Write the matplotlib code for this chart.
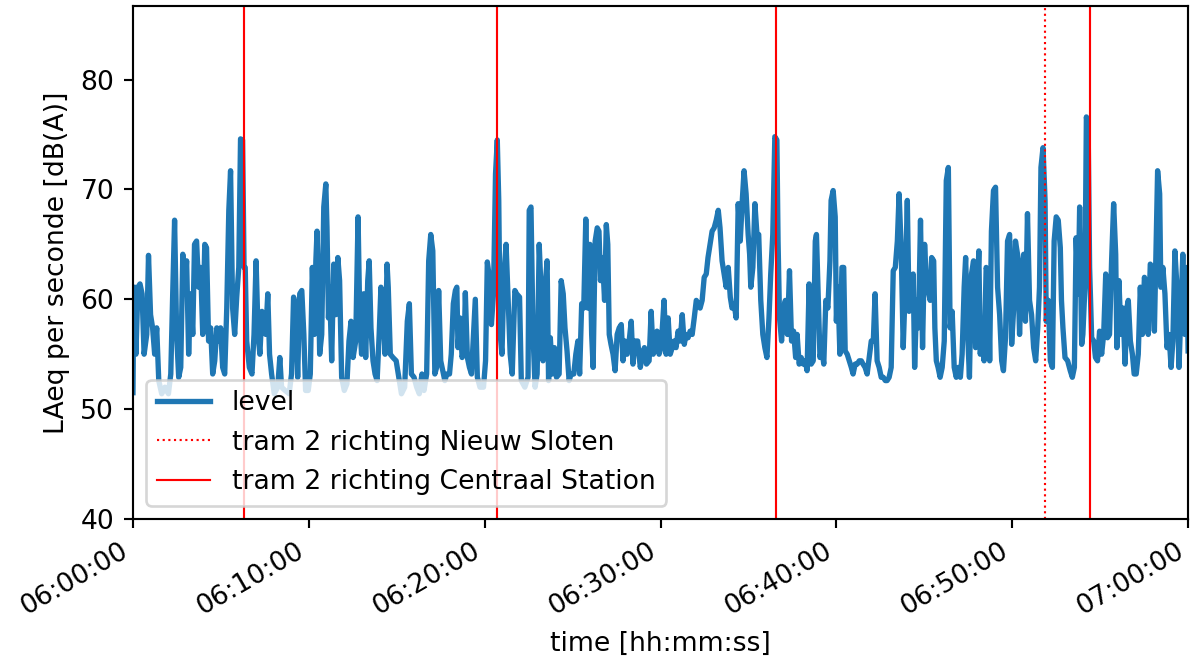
import datetime as dt
import matplotlib
matplotlib.use("Agg")
import matplotlib.pyplot as plt
import matplotlib.dates as mdates

# LAeq per second (seconds after 06:00:00, dB(A))
sec_00 = [0, 2, 6, 10, 17, 24, 31, 38, 47, 53, 60, 67, 74, 81, 88, 98, 109, 121, 129, 135,
          142, 149, 156, 163, 170, 176, 183, 190, 197, 204, 210, 217, 224, 231, 238, 245, 251,
          258, 265, 272, 279, 286, 292, 299, 306, 313, 320, 327, 333, 340, 347, 354, 361, 367,
          374, 379, 383, 388, 397, 406, 413, 420, 427, 433, 440]
db_00 = [51.5, 58.0, 61.1, 55.0, 61.1, 61.4, 60.5, 55.0, 56.8, 64.0, 58.6, 57.4, 55.0, 57.4,
         52.6, 51.4, 52.0, 51.4, 53.2, 59.9, 67.2, 56.8, 52.9, 53.8, 64.1, 60.5, 63.5, 55.0,
         60.5, 56.8, 65.0, 65.3, 61.1, 62.9, 56.8, 65.0, 64.7, 56.2, 57.4, 53.2, 54.4, 57.4,
         56.2, 57.4, 53.8, 53.2, 59.2, 68.1, 71.7, 59.2, 56.8, 60.2, 62.9, 74.6, 74.5, 62.9,
         62.9, 56.2, 53.8, 53.2, 56.8, 63.5, 56.8, 55.0, 58.9]

sec_07 = [453, 460, 466, 473, 482, 494, 501, 507, 519, 533, 541, 548, 555, 562, 569, 576, 583,
          589, 598, 605, 612, 619, 624, 628, 633, 637, 644, 651, 658, 662, 667, 671, 678, 685,
          692, 699, 705, 712, 721, 730, 737, 744, 751, 760, 768, 774, 780, 787, 794, 801, 806,
          812, 819, 826, 833, 840, 846, 853, 860, 867, 871, 878, 887]
db_07 = [56.8, 60.5, 55.0, 53.2, 51.4, 52.0, 54.7, 52.0, 51.7, 51.4, 53.2, 60.2, 59.2, 52.9,
         60.5, 60.8, 56.8, 51.7, 51.7, 53.2, 62.9, 56.8, 63.5, 66.2, 61.4, 55.0, 56.8, 68.4,
         70.5, 66.5, 58.3, 61.1, 54.4, 63.2, 58.6, 63.8, 61.7, 52.9, 51.7, 52.3, 56.2, 58.0,
         54.7, 56.2, 67.5, 58.0, 55.0, 60.5, 54.7, 61.7, 63.5, 57.4, 54.4, 53.2, 52.6, 56.8,
         61.1, 59.2, 55.0, 63.2, 61.1, 55.0, 54.7]

sec_15 = [898, 907, 916, 927, 936, 943, 950, 959, 968, 977, 986, 993, 1002, 1009, 1016, 1023,
          1030, 1036, 1043, 1050, 1057, 1064, 1071, 1080, 1086, 1093, 1100, 1105, 1109, 1116,
          1123, 1130, 1134, 1141, 1148, 1155, 1162, 1168, 1175, 1184, 1196, 1203, 1209, 1216,
          1223, 1230, 1237, 1243, 1248, 1253, 1259, 1266, 1273, 1280, 1287, 1294, 1303, 1309,
          1319, 1325, 1337, 1348]
db_15 = [54.4, 52.9, 51.4, 52.0, 58.0, 59.6, 53.2, 52.9, 52.0, 51.4, 53.2, 51.7, 53.2, 63.5,
         65.9, 64.4, 53.2, 53.8, 60.8, 54.4, 53.5, 52.6, 53.2, 53.2, 55.0, 59.6, 60.8, 61.1,
         55.6, 58.3, 54.7, 55.6, 60.6, 54.7, 53.8, 53.2, 56.8, 60.0, 52.9, 52.0, 52.0, 54.4,
         63.4, 62.0, 57.7, 60.5, 71.4, 74.5, 69.0, 56.8, 55.0, 62.3, 65.0, 59.9, 55.0, 53.2,
         60.8, 60.5, 60.2, 52.6, 52.0, 52.9]

sec_22 = [1352, 1358, 1365, 1372, 1379, 1386, 1392, 1399, 1406, 1413, 1418, 1424, 1431, 1438,
          1445, 1454, 1461, 1468, 1474, 1481, 1488, 1495, 1504, 1511, 1518, 1524, 1531, 1538,
          1545, 1552, 1559, 1565, 1570, 1577, 1584, 1590, 1595, 1602, 1609, 1615, 1620, 1625,
          1631, 1638, 1645, 1652, 1659, 1666, 1672, 1679, 1686, 1693, 1700, 1706, 1713, 1722,
          1731, 1738, 1745, 1752, 1761, 1768, 1775, 1782, 1788, 1795, 1802]
db_22 = [68.1, 68.4, 56.8, 52.0, 53.2, 65.0, 61.1, 54.4, 61.1, 63.5, 52.6, 56.5, 53.2, 55.6,
         52.9, 53.2, 61.7, 60.5, 57.4, 55.3, 52.6, 53.2, 53.2, 55.0, 56.2, 53.2, 59.6, 59.2,
         67.3, 59.2, 65.0, 56.8, 53.8, 65.3, 66.5, 66.2, 61.7, 63.8, 59.9, 66.8, 65.0, 56.8,
         55.9, 55.0, 53.5, 56.8, 57.4, 57.7, 54.4, 56.2, 55.0, 56.2, 58.0, 54.1, 56.2, 56.2,
         53.8, 55.0, 55.6, 54.1, 54.4, 58.9, 55.0, 55.6, 57.1, 55.0, 55.6]

sec_30 = [1812, 1819, 1826, 1833, 1840, 1846, 1853, 1860, 1867, 1874, 1881, 1887, 1894, 1901,
          1908, 1915, 1922, 1928, 1935, 1942, 1949, 1956, 1962, 1969, 1976, 1983, 1990, 1997,
          2003, 2010, 2017, 2024, 2031, 2038, 2044, 2051, 2058, 2065, 2072, 2079, 2085, 2092,
          2099, 2104, 2108, 2115, 2122, 2129, 2135, 2142, 2149, 2156, 2163, 2170, 2176, 2183,
          2190, 2197, 2201, 2206, 2213, 2220, 2226, 2233, 2240, 2247, 2254]
db_30 = [59.9, 55.0, 58.3, 55.0, 55.6, 56.2, 55.6, 57.1, 56.2, 58.6, 55.9, 56.8, 56.5, 57.1,
         56.8, 58.3, 59.9, 59.6, 59.2, 59.9, 62.0, 62.3, 63.8, 65.0, 66.2, 66.5, 67.2, 68.1,
         66.5, 63.5, 62.3, 61.1, 62.9, 60.2, 59.2, 59.6, 58.3, 68.7, 65.3, 69.0, 71.7, 69.6,
         65.9, 64.1, 61.1, 62.9, 68.7, 65.9, 65.9, 59.9, 56.8, 55.6, 54.7, 58.3, 62.3, 65.9,
         74.8, 74.5, 65.3, 58.3, 56.2, 59.2, 59.9, 56.8, 62.6, 56.2, 57.1]

sec_37 = [2261, 2266, 2273, 2280, 2287, 2294, 2300, 2307, 2314, 2321, 2328, 2332, 2337, 2344,
          2350, 2357, 2364, 2371, 2378, 2382, 2389, 2396, 2400, 2405, 2412, 2419, 2425, 2430,
          2437, 2444, 2451, 2457, 2464, 2471, 2478, 2485, 2491, 2498, 2505, 2512, 2519, 2526,
          2532, 2539, 2546, 2553, 2560, 2567, 2573, 2580, 2587, 2594, 2601, 2608, 2614, 2621,
          2628, 2635, 2642, 2648, 2655, 2662, 2667, 2674, 2680, 2687, 2694, 2701, 2708]
db_37 = [54.7, 56.8, 54.1, 54.7, 54.1, 54.4, 53.5, 61.4, 54.1, 54.4, 65.3, 65.9, 61.1, 54.7,
         55.6, 54.1, 59.9, 59.2, 63.5, 69.0, 69.9, 67.5, 58.0, 61.1, 55.0, 62.9, 62.9, 55.3,
         55.0, 54.4, 53.8, 53.2, 54.1, 54.1, 54.4, 54.4, 54.1, 53.8, 53.2, 54.7, 56.2, 56.2,
         60.5, 54.4, 53.8, 52.9, 52.9, 52.6, 52.6, 52.9, 53.8, 62.6, 62.9, 65.3, 69.6, 64.7,
         55.6, 61.1, 69.0, 58.9, 59.2, 62.3, 53.8, 59.9, 57.4, 67.2, 55.6, 65.0, 61.1]

sec_45 = [2713, 2720, 2725, 2732, 2736, 2741, 2747, 2754, 2761, 2768, 2775, 2782, 2788, 2795,
          2802, 2809, 2816, 2823, 2829, 2836, 2841, 2848, 2854, 2861, 2868, 2875, 2882, 2886,
          2891, 2898, 2904, 2911, 2918, 2923, 2929, 2936, 2943, 2950, 2957, 2964, 2970, 2977,
          2984, 2991, 2998, 3005, 3011, 3018, 3025, 3032, 3039, 3045, 3052, 3059, 3066, 3073,
          3080, 3087, 3093, 3098, 3105, 3112, 3116, 3123, 3130, 3137, 3143, 3150]
db_45 = [60.8, 59.9, 63.8, 63.5, 57.4, 54.4, 53.8, 52.9, 53.8, 56.2, 70.8, 72.0, 57.4, 58.9,
         53.8, 52.9, 53.8, 52.9, 55.0, 61.1, 63.8, 56.8, 52.9, 62.3, 63.5, 55.6, 61.1, 64.4,
         55.0, 58.0, 54.4, 62.9, 62.3, 54.4, 66.2, 69.9, 70.2, 61.1, 58.6, 54.4, 53.5, 56.5,
         65.3, 65.9, 55.9, 59.2, 65.3, 64.1, 56.8, 62.9, 64.1, 58.0, 67.8, 59.9, 58.6, 55.6,
         54.4, 57.4, 61.1, 72.0, 73.8, 69.0, 58.0, 59.9, 54.4, 53.8, 65.3, 67.5]

sec_52 = [3157, 3164, 3168, 3173, 3180, 3189, 3198, 3205, 3212, 3218, 3225, 3230, 3237, 3241,
          3248, 3253, 3259, 3264, 3271, 3278, 3284, 3291, 3298, 3305, 3312, 3319, 3325, 3332,
          3339, 3346, 3353, 3357, 3364, 3371, 3378, 3385, 3391, 3396, 3403, 3410, 3416, 3423,
          3430, 3437, 3444, 3451, 3457, 3464, 3471, 3478, 3485, 3491, 3496, 3503, 3507, 3514,
          3521, 3528, 3535, 3542, 3548, 3555, 3562, 3569, 3576, 3582, 3589, 3596, 3600]
db_52 = [67.2, 64.7, 59.9, 57.4, 54.7, 54.4, 53.5, 52.9, 53.8, 65.6, 60.5, 68.4, 55.9, 56.8,
         61.1, 76.6, 75.4, 62.9, 56.5, 56.2, 54.7, 54.4, 57.1, 55.0, 56.8, 62.3, 56.5, 56.8,
         63.5, 68.7, 64.1, 55.6, 61.7, 56.8, 59.2, 54.1, 59.2, 59.9, 56.2, 55.0, 53.2, 53.2,
         55.0, 61.1, 56.8, 62.0, 61.1, 56.8, 63.2, 62.9, 57.1, 65.3, 71.7, 69.6, 61.1, 62.9,
         60.5, 55.6, 56.8, 53.8, 56.2, 64.4, 61.1, 53.8, 59.2, 64.1, 56.8, 62.9, 55.3]

# tram passages (hh:mm:ss)
tram_nieuw_sloten = ["06:51:52"]
tram_centraal = ["06:06:19", "06:20:42", "06:36:34", "06:54:26"]

day = dt.datetime(2021, 1, 1, 6, 0, 0)
seconds = sec_00 + sec_07 + sec_15 + sec_22 + sec_30 + sec_37 + sec_45 + sec_52
levels = db_00 + db_07 + db_15 + db_22 + db_30 + db_37 + db_45 + db_52
times = [day + dt.timedelta(seconds=s) for s in seconds]


def to_time(hms):
    h, m, s = (int(x) for x in hms.split(":"))
    return day.replace(hour=h, minute=m, second=s)


fig = plt.figure(figsize=(1199 / 192, 662 / 192), dpi=192)
ax = fig.add_axes([0.1109, 0.216, 0.88, 0.775])

ax.plot(times, levels, color="tab:blue", lw=2.0, label="level")
for i, t in enumerate(tram_nieuw_sloten):
    ax.axvline(to_time(t), color="red", ls=":", lw=0.8,
               label="tram 2 richting Nieuw Sloten" if i == 0 else None)
for i, t in enumerate(tram_centraal):
    ax.axvline(to_time(t), color="red", ls="-", lw=0.8,
               label="tram 2 richting Centraal Station" if i == 0 else None)

ax.set_xlim(day, day + dt.timedelta(hours=1))
ax.set_ylim(40, 86.7)
ax.set_yticks([40, 50, 60, 70, 80])
ax.xaxis.set_major_locator(mdates.MinuteLocator(byminute=range(0, 60, 10)))
ax.xaxis.set_major_formatter(mdates.DateFormatter("%H:%M:%S"))
for lab in ax.get_xticklabels():
    lab.set_rotation(30)
    lab.set_ha("right")

ax.set_xlabel("time [hh:mm:ss]")
ax.set_ylabel("LAeq per seconde [dB(A)]")
ax.legend(loc="lower left", handlelength=2.0)

fig.savefig("out.png", dpi=192)
